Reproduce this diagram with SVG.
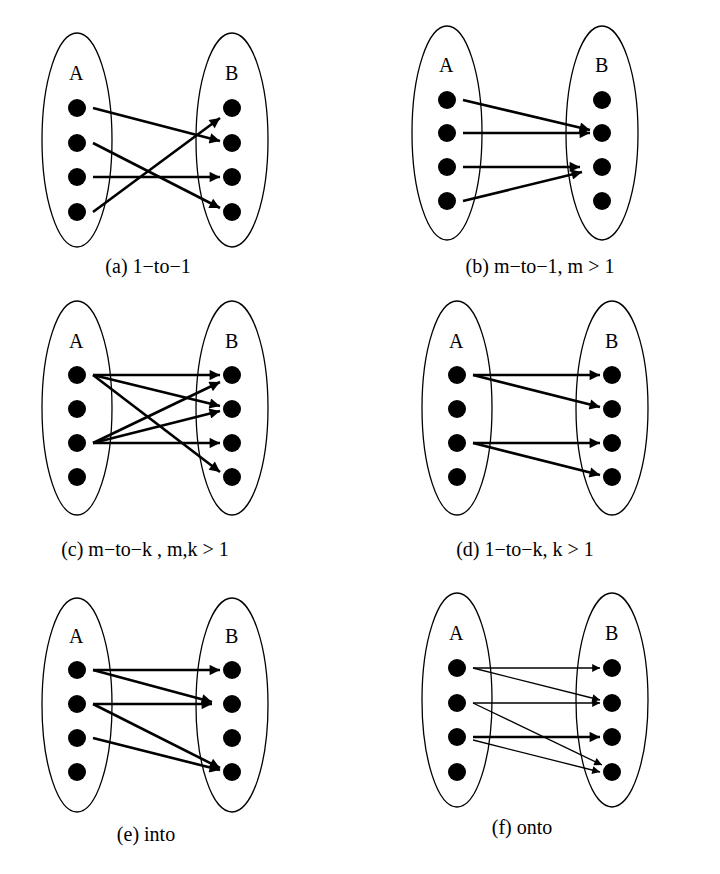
<svg xmlns="http://www.w3.org/2000/svg" width="720" height="874" viewBox="0 0 720 874">
<defs>
<marker id="ah" viewBox="0 0 10 10" refX="10" refY="5" markerWidth="5" markerHeight="4" orient="auto" markerUnits="strokeWidth"><path d="M0,0 L10,5 L0,10 z" fill="#000"/></marker>
<marker id="ahT" viewBox="0 0 10 10" refX="10" refY="5" markerWidth="9" markerHeight="6" orient="auto" markerUnits="strokeWidth"><path d="M0,0 L10,5 L0,10 z" fill="#000"/></marker>
</defs>
<style>
ellipse{fill:none;stroke:#000;stroke-width:1.3}
circle{fill:#000}
text{font-family:"Liberation Serif",serif;font-size:20px;fill:#000}
.lbl{text-anchor:middle}
.c line{stroke:#000;stroke-width:2.6;marker-end:url(#ah)}
.c line.t{stroke-width:1.3;marker-end:url(#ahT)}
</style>
<rect width="720" height="874" fill="#fff"/>

<g id="panel-a">
<ellipse cx="77" cy="140" rx="35" ry="107"/><ellipse cx="232" cy="140" rx="36" ry="107"/>
<text x="69" y="80">A</text><text x="225" y="80">B</text>
<circle cx="77" cy="108" r="9"/><circle cx="77" cy="143" r="9"/><circle cx="77" cy="177" r="9"/><circle cx="77" cy="212" r="9"/>
<circle cx="232" cy="108" r="9"/><circle cx="232" cy="143" r="9"/><circle cx="232" cy="177" r="9"/><circle cx="232" cy="212" r="9"/>
<text class="lbl" x="148" y="273">(a) 1−to−1</text>
</g>
<g id="panel-b">
<ellipse cx="447" cy="133" rx="35" ry="107"/><ellipse cx="602" cy="133" rx="36" ry="107"/>
<text x="439" y="72">A</text><text x="595" y="72">B</text>
<circle cx="447" cy="100" r="9"/><circle cx="447" cy="133" r="9"/><circle cx="447" cy="167" r="9"/><circle cx="447" cy="201" r="9"/>
<circle cx="602" cy="100" r="9"/><circle cx="602" cy="133" r="9"/><circle cx="602" cy="167" r="9"/><circle cx="602" cy="201" r="9"/>
<text class="lbl" x="540" y="273">(b) m−to−1, m &gt; 1</text>
</g>
<g id="panel-c">
<ellipse cx="77" cy="408" rx="35" ry="107"/><ellipse cx="232" cy="408" rx="36" ry="107"/>
<text x="69" y="348">A</text><text x="225" y="348">B</text>
<circle cx="77" cy="375" r="9"/><circle cx="77" cy="409" r="9"/><circle cx="77" cy="443" r="9"/><circle cx="77" cy="477" r="9"/>
<circle cx="232" cy="375" r="9"/><circle cx="232" cy="409" r="9"/><circle cx="232" cy="443" r="9"/><circle cx="232" cy="477" r="9"/>
<text class="lbl" x="145" y="556">(c) m−to−k , m,k &gt; 1</text>
</g>
<g id="panel-d">
<ellipse cx="457" cy="408" rx="35" ry="107"/><ellipse cx="612" cy="408" rx="36" ry="107"/>
<text x="449" y="348">A</text><text x="605" y="348">B</text>
<circle cx="457" cy="375" r="9"/><circle cx="457" cy="409" r="9"/><circle cx="457" cy="443" r="9"/><circle cx="457" cy="477" r="9"/>
<circle cx="612" cy="375" r="9"/><circle cx="612" cy="409" r="9"/><circle cx="612" cy="443" r="9"/><circle cx="612" cy="477" r="9"/>
<text class="lbl" x="525" y="556">(d) 1−to−k, k &gt; 1</text>
</g>
<g id="panel-e">
<ellipse cx="77" cy="705" rx="35" ry="107"/><ellipse cx="232" cy="705" rx="36" ry="107"/>
<text x="69" y="643">A</text><text x="225" y="643">B</text>
<circle cx="77" cy="670" r="9"/><circle cx="77" cy="704" r="9"/><circle cx="77" cy="738" r="9"/><circle cx="77" cy="772" r="9"/>
<circle cx="232" cy="670" r="9"/><circle cx="232" cy="704" r="9"/><circle cx="232" cy="738" r="9"/><circle cx="232" cy="772" r="9"/>
<text class="lbl" x="146" y="841">(e) into</text>
</g>
<g id="panel-f">
<ellipse cx="457" cy="700" rx="35" ry="107"/><ellipse cx="612" cy="700" rx="36" ry="107"/>
<text x="449" y="640">A</text><text x="605" y="640">B</text>
<circle cx="457" cy="668" r="9"/><circle cx="457" cy="703" r="9"/><circle cx="457" cy="737" r="9"/><circle cx="457" cy="772" r="9"/>
<circle cx="612" cy="668" r="9"/><circle cx="612" cy="703" r="9"/><circle cx="612" cy="737" r="9"/><circle cx="612" cy="772" r="9"/>
<text class="lbl" x="522" y="834">(f) onto</text>
</g>

<g id="connectors" class="c">
<line x1="93" y1="108" x2="220" y2="141"/>
<line x1="93" y1="143" x2="220" y2="208"/>
<line x1="93" y1="177" x2="220" y2="177"/>
<line x1="93" y1="212" x2="220" y2="118"/>

<line x1="463" y1="100" x2="590" y2="130"/>
<line x1="463" y1="133" x2="590" y2="133"/>
<line x1="463" y1="167" x2="580" y2="167"/>
<line x1="463" y1="201" x2="582" y2="172"/>

<line x1="93" y1="375" x2="220" y2="375"/>
<line x1="93" y1="375" x2="220" y2="406"/>
<line x1="93" y1="375" x2="220" y2="472"/>
<line x1="93" y1="443" x2="220" y2="382"/>
<line x1="93" y1="443" x2="220" y2="411"/>
<line x1="93" y1="443" x2="220" y2="443"/>

<line x1="473" y1="375" x2="600" y2="375"/>
<line x1="473" y1="375" x2="600" y2="407"/>
<line x1="473" y1="443" x2="600" y2="443"/>
<line x1="473" y1="443" x2="600" y2="475"/>

<line x1="93" y1="670" x2="220" y2="670"/>
<line x1="93" y1="670" x2="212" y2="702"/>
<line x1="93" y1="704" x2="212" y2="704"/>
<line x1="93" y1="704" x2="220" y2="768"/>
<line x1="93" y1="738" x2="220" y2="770"/>

<line class="t" x1="473" y1="668" x2="600" y2="668"/>
<line class="t" x1="473" y1="668" x2="600" y2="700"/>
<line class="t" x1="473" y1="703" x2="600" y2="703"/>
<line class="t" x1="473" y1="703" x2="602" y2="765"/>
<line x1="473" y1="737" x2="600" y2="737"/>
<line class="t" x1="473" y1="740" x2="600" y2="772"/>
</g>
</svg>
